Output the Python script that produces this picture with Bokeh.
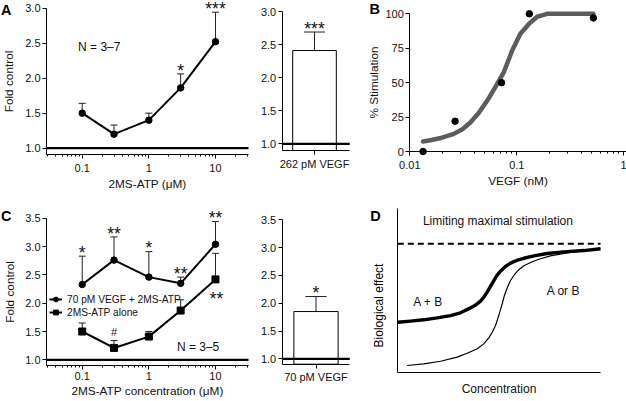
import math
from bokeh.plotting import figure
from bokeh.layouts import row, column
from bokeh.models import (Range1d, FixedTicker, PrintfTickFormatter,
                          CustomJSTickFormatter, Whisker, TeeHead, Label,
                          LabelSet, ColumnDataSource, Legend, LegendItem)
from bokeh.core.properties import value
from bokeh.embed import file_html
from bokeh.resources import INLINE

# ---------------- data ----------------
conc_uM = [0.1, 0.3, 1, 3, 10]

# Panel A: 2MS-ATP alone
a_mean = [1.50, 1.20, 1.40, 1.86, 2.52]
a_err_top = [1.64, 1.33, 1.50, 2.06, 2.94]
a_sig = ["", "", "", "*", "***"]
a_n_text = "N = 3–7"

# Panel A inset bar
a_bar_cat = ["262 pM VEGF"]
a_bar_mean = [2.41]
a_bar_err_top = [2.69]
a_bar_sig = ["***"]

# Panel B: VEGF concentration response
b_vegf_nM = [0.0133, 0.0265, 0.072, 0.131, 0.52]
b_stim = [0, 22, 50, 100, 97]
b_fit_nM = [0.0133, 0.016, 0.02, 0.0258, 0.031, 0.0368, 0.044, 0.053, 0.063,
            0.0757, 0.0906, 0.108, 0.131, 0.156, 0.192, 0.30, 0.52]
b_fit_stim = [7.3, 8.4, 10.0, 12.8, 16.2, 21, 28, 37, 46.8,
              57.7, 73.4, 85.5, 93, 98, 100, 100, 100]

# Panel C
c_vegf_mean = [2.33, 2.76, 2.46, 2.35, 3.04]
c_vegf_err_top = [2.83, 3.17, 2.91, 2.46, 3.44]
c_vegf_sig = ["*", "**", "*", "**", "**"]
c_alone_mean = [1.50, 1.21, 1.41, 1.87, 2.42]
c_alone_err_top = [1.65, 1.34, 1.50, 2.06, 2.88]
c_alone_sig_above = ["", "#", "", "", ""]
c_alone_sig_below = ["", "", "", "", "**"]
c_n_text = "N = 3–5"
c_series = ["70 pM VEGF + 2MS-ATP", "2MS-ATP alone"]

# Panel C inset bar
c_bar_cat = ["70 pM VEGF"]
c_bar_mean = [1.85]
c_bar_err_top = [2.12]
c_bar_sig = ["*"]

# Panel D: schematic curves
d_ab_x = [0.0, 0.63, 1.28, 1.94, 2.6, 3.09, 3.59, 3.88, 4.08, 4.24, 4.41, 4.57,
          4.74, 4.9, 5.07, 5.31, 5.56, 5.89, 6.22, 6.71, 7.37, 8.19, 9.18, 10.0]
d_ab_y = [3.05, 3.12, 3.2, 3.32, 3.46, 3.63, 3.93, 4.14, 4.34, 4.58, 4.89, 5.24,
          5.6, 5.93, 6.17, 6.46, 6.66, 6.84, 6.96, 7.11, 7.25, 7.35, 7.43, 7.54]
d_single_x = [0.46, 1.28, 2.11, 2.93, 3.42, 3.92, 4.24, 4.49, 4.66, 4.82, 4.93,
              5.03, 5.15, 5.26, 5.4, 5.56, 5.76, 5.97, 6.22, 6.55, 6.96, 7.53,
              8.36, 9.18, 10.0]
d_single_y = [0.41, 0.51, 0.67, 0.92, 1.16, 1.43, 1.73, 2.1, 2.44, 2.85, 3.26,
              3.67, 4.18, 4.69, 5.16, 5.6, 5.97, 6.26, 6.5, 6.7, 6.9, 7.11,
              7.29, 7.43, 7.54]
d_max_effect = 7.84
d_labels = ["Limiting maximal stimulation", "A + B", "A or B"]

# ---------------- layout helpers ----------------
SX = 1.0
SY = 1.0
FONT = "Liberation Sans"
TICK_FS = "11px"
LAB_FS = "11.8px"
TXT_FS = "12px"
STAR_FS = "17.5px"
LETTER_FS = "14.5px"
INK = "#111111"


def rnd(v):
    return int(round(v))


def extend(d0, d1, p0, p1, c0, c1, log=False):
    """Data values at canvas pixels c0, c1 given d0 at pixel p0 and d1 at p1."""
    if log:
        d0, d1 = math.log10(d0), math.log10(d1)
    s = (d1 - d0) / (p1 - p0)
    a = d0 + (c0 - p0) * s
    b = d0 + (c1 - p0) * s
    if log:
        a, b = 10 ** a, 10 ** b
    return a, b


def style_axis(ax):
    ax.axis_line_color = "black"
    ax.axis_line_width = 1
    ax.major_tick_line_color = "black"
    ax.major_tick_out = 4
    ax.major_tick_in = 0
    ax.minor_tick_line_color = "black"
    ax.minor_tick_out = 2
    ax.minor_tick_in = 0
    ax.major_label_text_font = FONT
    ax.major_label_text_font_size = TICK_FS
    ax.major_label_text_color = INK
    ax.axis_label_text_font = FONT
    ax.axis_label_text_font_size = LAB_FS
    ax.axis_label_text_font_style = "normal"
    ax.axis_label_text_color = INK


class Panel:
    def __init__(self, box, plot_box, xr, yr, xlog=False):
        X0, X1, Y0, Y1 = box
        fx0, fx1, fy0, fy1 = plot_box
        self.box = box
        W = rnd(X1 * SX) - rnd(X0 * SX)
        H = rnd(Y1 * SY) - rnd(Y0 * SY)
        xs, xe = extend(xr[0], xr[1], fx0, fx1, X0, X1, xlog)
        ys, ye = extend(yr[0], yr[1], -fy1, -fy0, -Y1, -Y0)
        p = figure(width=W, height=H, x_range=Range1d(xs, xe), y_range=Range1d(ys, ye),
                   x_axis_type="log" if xlog else "linear", min_border=0,
                   output_backend="svg", toolbar_location=None, title=None)
        p.outline_line_color = None
        p.xgrid.visible = False
        p.ygrid.visible = False
        p.background_fill_color = "white"
        p.border_fill_color = "white"
        for ax in list(p.xaxis) + list(p.yaxis):
            style_axis(ax)
        p.xaxis.fixed_location = yr[0]
        p.xaxis.bounds = (xr[0], xr[1])
        p.yaxis.fixed_location = xr[0]
        p.yaxis.bounds = (yr[0], yr[1])
        p.yaxis.major_label_standoff = 2
        p.yaxis.minor_tick_line_color = None
        self.p = p
        self.xr = xr
        self.yr = yr

    def ref_label(self, txt, rx, ry, size, bold=False, angle=0.0):
        X0, X1, Y0, Y1 = self.box
        self.p.add_layout(Label(x=(rx - X0) * SX, y=(Y1 - ry) * SY,
                                x_units="screen", y_units="screen",
                                text=txt, text_font=FONT, text_font_size=size,
                                text_font_style="bold" if bold else "normal",
                                text_align="center", text_baseline="middle",
                                text_color="black", angle=angle))

    def baseline(self, yv, lw=2.2, dash="solid"):
        self.p.segment(x0=[self.xr[0]], x1=[self.xr[1]], y0=[yv], y1=[yv],
                       line_color="black", line_width=lw, line_dash=dash)

    def log_ticker(self, majors):
        lo, hi = self.xr
        minors = [k * 10.0 ** e for e in range(-3, 3) for k in range(2, 10)]
        minors = [m for m in minors if lo <= m <= hi]
        return FixedTicker(ticks=majors, minor_ticks=minors)


def error_bars(p, xs, lo, hi, head):
    src = ColumnDataSource(dict(x=xs, lower=lo, upper=hi))
    p.add_layout(Whisker(source=src, base="x", lower="lower", upper="upper",
                         dimension="height", line_color="#222222", line_width=1,
                         upper_head=TeeHead(size=head, line_color="#222222", line_width=1),
                         lower_head=None))


def sig_labels(p, xs, ys, texts, y_off, size=STAR_FS, x_off=0):
    src = ColumnDataSource(dict(x=xs, y=ys, t=texts))
    p.add_layout(LabelSet(source=src, x="x", y="y", text="t", text_align="center",
                          text_baseline="alphabetic", y_offset=y_off, x_offset=x_off,
                          text_font=value(FONT), text_font_size=size, text_color=INK))


def data_label(p, txt, x, y, size=TXT_FS):
    p.add_layout(Label(x=x, y=y, text=txt, text_font=FONT, text_font_size=size,
                       text_align="center", text_baseline="middle", text_color=INK))


fmt_log = CustomJSTickFormatter(code="return String(tick);")


def cat_formatter(labels):
    return CustomJSTickFormatter(args=dict(labels=labels), code="""
        const i = Math.round(tick);
        return (i >= 0 && i < labels.length) ? labels[i] : '';""")


# ---------------- Panel A ----------------
A = Panel((0, 253, 0, 195), (46, 248, 7.5, 154), (0.0291, 31.3), (0.91, 3.0), xlog=True)
pA = A.p
pA.xaxis.ticker = A.log_ticker([0.1, 1, 10])
pA.xaxis.formatter = fmt_log
pA.xaxis.major_label_standoff = 5
pA.xaxis.axis_label = "2MS-ATP (μM)"
pA.xaxis.axis_label_standoff = 2
pA.yaxis.ticker = FixedTicker(ticks=[1.0, 1.5, 2.0, 2.5, 3.0])
pA.yaxis.formatter = PrintfTickFormatter(format="%.1f")
pA.yaxis.axis_label = "Fold control"
pA.yaxis.axis_label_standoff = 6
A.baseline(1.0)
error_bars(pA, conc_uM, a_mean, a_err_top, 7)
pA.line(conc_uM, a_mean, line_color="black", line_width=2)
pA.scatter(conc_uM, a_mean, marker="circle", size=6.5, fill_color="black", line_color="black")
sig_labels(pA, conc_uM, a_err_top, a_sig, -2.7)
data_label(pA, a_n_text, 0.18, 2.44)
A.ref_label("A", 5.8, 9, LETTER_FS, bold=True)

# ---------------- Panel A inset ----------------
Ai = Panel((253, 352, 0, 195), (281.7, 349.3, 11, 150), (-0.478, 0.522), (0.9, 3.0))
pAi = Ai.p
a_bar_pos = list(range(len(a_bar_cat)))
pAi.xaxis.ticker = FixedTicker(ticks=a_bar_pos)
pAi.xaxis.formatter = cat_formatter(a_bar_cat)
pAi.xaxis.major_label_standoff = 3
pAi.yaxis.ticker = FixedTicker(ticks=[1.0, 1.5, 2.0, 2.5, 3.0])
pAi.yaxis.formatter = PrintfTickFormatter(format="%.1f")
pAi.vbar(x=a_bar_pos, top=a_bar_mean, bottom=Ai.yr[0], width=0.645,
         fill_color="white", line_color="black", line_width=1)
error_bars(pAi, a_bar_pos, a_bar_mean, a_bar_err_top, 21)
Ai.baseline(1.0)
sig_labels(pAi, a_bar_pos, a_bar_err_top, a_bar_sig, -2.7)

# ---------------- Panel B ----------------
B = Panel((352, 626, 0, 195), (409.3, 626, 13.3, 151), (0.01, 1.06), (0, 100), xlog=True)
pB = B.p
pB.xaxis.ticker = B.log_ticker([0.01, 0.1, 1])
pB.xaxis.formatter = fmt_log
pB.xaxis.major_label_standoff = 5
pB.xaxis.axis_label = "VEGF (nM)"
pB.xaxis.axis_label_standoff = 2
pB.yaxis.ticker = FixedTicker(ticks=[0, 25, 50, 75, 100])
pB.yaxis.axis_label = "% Stimulation"
pB.yaxis.axis_label_standoff = 1
pB.line(b_fit_nM, b_fit_stim, line_color="#5c5c5c", line_width=4.5, line_cap="round",
        line_join="round")
pB.scatter(b_vegf_nM, b_stim, marker="circle", size=6.5, fill_color="black",
           line_color="black")
B.ref_label("B", 374.2, 8.7, LETTER_FS, bold=True)

# ---------------- Panel C ----------------
C = Panel((0, 253, 195, 401), (46, 248, 217.7, 365), (0.0291, 31.3), (0.9, 3.5), xlog=True)
pC = C.p
pC.xaxis.ticker = C.log_ticker([0.1, 1, 10])
pC.xaxis.formatter = fmt_log
pC.xaxis.major_label_standoff = 2
pC.xaxis.axis_label = "2MS-ATP concentration (μM)"
pC.xaxis.axis_label_standoff = 1
pC.yaxis.ticker = FixedTicker(ticks=[1.0, 1.5, 2.0, 2.5, 3.0, 3.5])
pC.yaxis.formatter = PrintfTickFormatter(format="%.1f")
pC.yaxis.axis_label = "Fold control"
pC.yaxis.axis_label_standoff = 5
C.baseline(1.0)
error_bars(pC, conc_uM, c_vegf_mean, c_vegf_err_top, 7)
error_bars(pC, conc_uM, c_alone_mean, c_alone_err_top, 7)
l1 = pC.line(conc_uM, c_vegf_mean, line_color="black", line_width=2)
s1 = pC.scatter(conc_uM, c_vegf_mean, marker="circle", size=6.5, fill_color="black",
                line_color="black")
l2 = pC.line(conc_uM, c_alone_mean, line_color="black", line_width=2)
s2 = pC.scatter(conc_uM, c_alone_mean, marker="square", size=7, fill_color="black",
                line_color="black")
sig_labels(pC, conc_uM, c_vegf_err_top, c_vegf_sig, -2.7)
sig_labels(pC, conc_uM, c_alone_err_top, c_alone_sig_above, 4.8, size="11px")
sig_labels(pC, conc_uM, c_alone_mean, c_alone_sig_below, -25.6, x_off=1)
data_label(pC, c_n_text, 5.48, 1.22)
legC = Legend(items=[LegendItem(label=c_series[0], renderers=[l1, s1]),
                     LegendItem(label=c_series[1], renderers=[l2, s2])],
              location=(rnd(49 * SX), rnd((401 - 318.2) * SY)), padding=0, margin=0,
              spacing=1, glyph_width=13, glyph_height=12, label_height=12,
              label_standoff=5, label_text_font=FONT, label_text_font_size="10.2px",
              label_text_color=INK, border_line_color=None, background_fill_alpha=0)
pC.add_layout(legC)
C.ref_label("C", 5.8, 215.8, LETTER_FS, bold=True)

# ---------------- Panel C inset ----------------
Ci = Panel((253, 352, 195, 401), (281.7, 349.3, 219.3, 363.7), (-0.5, 0.5), (0.903, 3.5))
pCi = Ci.p
c_bar_pos = list(range(len(c_bar_cat)))
pCi.xaxis.ticker = FixedTicker(ticks=c_bar_pos)
pCi.xaxis.formatter = cat_formatter(c_bar_cat)
pCi.xaxis.major_label_standoff = 3
pCi.yaxis.ticker = FixedTicker(ticks=[1.0, 1.5, 2.0, 2.5, 3.0, 3.5])
pCi.yaxis.formatter = PrintfTickFormatter(format="%.1f")
pCi.vbar(x=c_bar_pos, top=c_bar_mean, bottom=Ci.yr[0], width=0.655,
         fill_color="white", line_color="black", line_width=1)
error_bars(pCi, c_bar_pos, c_bar_mean, c_bar_err_top, 21)
Ci.baseline(1.0)
sig_labels(pCi, c_bar_pos, c_bar_err_top, c_bar_sig, -2.7)

# ---------------- Panel D ----------------
D = Panel((352, 626, 195, 401), (397.3, 600, 208, 371.7), (0, 10), (0, 10))
pD = D.p
for ax in list(pD.xaxis) + list(pD.yaxis):
    ax.ticker = FixedTicker(ticks=[])
    ax.major_tick_out = 0
    ax.major_label_standoff = 0
pD.xaxis.axis_label = "Concentration"
pD.xaxis.axis_label_text_font_size = "12px"
pD.xaxis.axis_label_standoff = 9
D.baseline(d_max_effect, lw=2, dash="6 4")
pD.line(d_single_x, d_single_y, line_color="black", line_width=1.2, line_join="round")
pD.line(d_ab_x, d_ab_y, line_color="black", line_width=3.4, line_join="round")
data_label(pD, d_labels[0], 4.94, 9.24)
data_label(pD, d_labels[1], 1.49, 4.3)
data_label(pD, d_labels[2], 8.17, 4.99)
D.ref_label("Biological effect", 378, 305, "12px", angle=math.pi / 2)
D.ref_label("D", 375, 215.5, LETTER_FS, bold=True)

layout = column(row(pA, pAi, pB, spacing=0), row(pC, pCi, pD, spacing=0), spacing=0)

with open("out.html", "w") as f:
    f.write(file_html(layout, INLINE))
